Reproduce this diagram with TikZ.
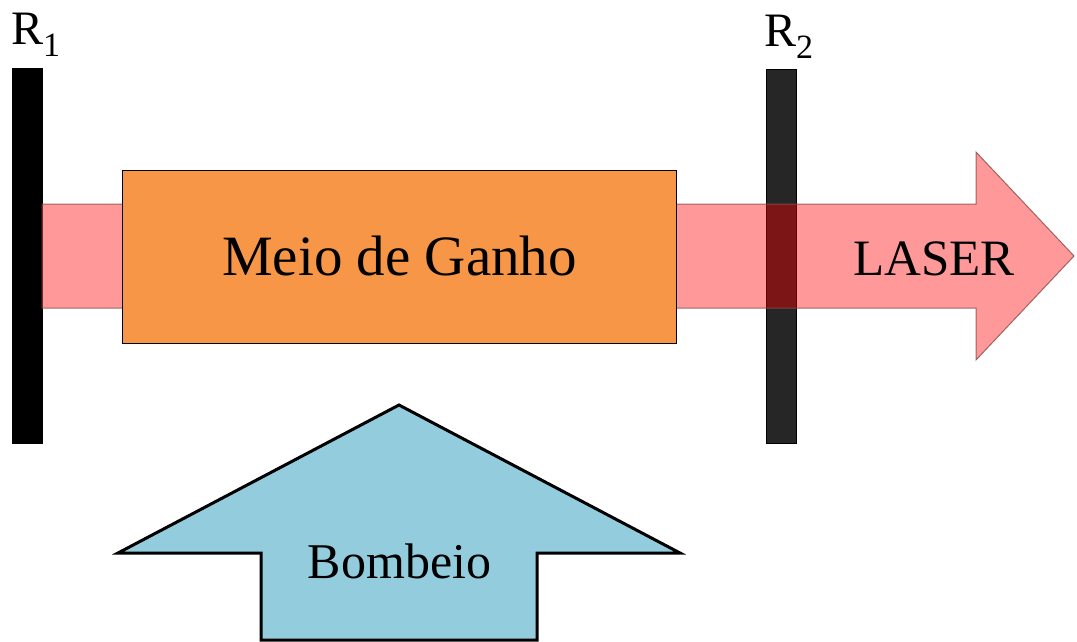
\documentclass[tikz,border=0pt]{standalone}
\usepackage{fontspec}
\setmainfont{Liberation Serif}
\newfontfamily\labelserif{Liberation Serif}
\definecolor{gainorange}{HTML}{F79646}
\definecolor{pumpblue}{HTML}{93CDDD}
\definecolor{mirrorgray}{HTML}{262626}
\definecolor{beamedge}{HTML}{8A4A4A}
\tikzset{
  mirror/.style={draw=black, line width=0.8pt},
  beam/.style={fill=red, fill opacity=0.4, draw=beamedge, draw opacity=0.8, line width=1pt},
  gainbox/.style={fill=gainorange, draw=black, line width=0.8pt},
  pumparrow/.style={fill=pumpblue, draw=black, line width=3pt, line join=miter},
  biglabel/.style={inner sep=0pt, anchor=base, text=black},
}
\newcommand{\mirrorlabel}[1]{\labelserif\fontsize{48}{48}\selectfont R\raisebox{-12pt}{\fontsize{34}{34}\selectfont #1}}
\begin{document}
\begin{tikzpicture}[x=1pt, y=-1pt]
  \useasboundingbox (0,0) rectangle (1077,642);

  % output mirror (partially transmitting)
  \path[mirror, fill=mirrorgray] (766,69) rectangle (796,443);
  % rear mirror
  \path[mirror, fill=black] (12,68) rectangle (42,443);

  % laser beam leaving through R2
  \path[beam] (42,204) -- (976,204) -- (976,152) -- (1074,256)
              -- (976,360) -- (976,308) -- (42,308) -- cycle;

  % gain medium
  \path[gainbox] (122,170) rectangle (676,343);
  \node[biglabel, font=\labelserif\fontsize{57}{57}\selectfont] (gain) at (399.5,275) {Meio de Ganho};

  \node[biglabel, font=\labelserif\fontsize{51}{51}\selectfont] (laser) at (934,275) {LASER};

  % pump arrow
  \path[pumparrow] (261,640) -- (261,553) -- (118,553) -- (399,405)
                   -- (680,553) -- (537,553) -- (537,640) -- cycle;
  \node[biglabel, font=\labelserif\fontsize{50}{50}\selectfont] (pump) at (399.5,578) {Bombeio};

  % mirror labels
  \node[inner sep=0pt, anchor=base west] (r1) at (11,45) {\mirrorlabel{1}};
  \node[inner sep=0pt, anchor=base west] (r2) at (764,47) {\mirrorlabel{2}};
\end{tikzpicture}
\end{document}
